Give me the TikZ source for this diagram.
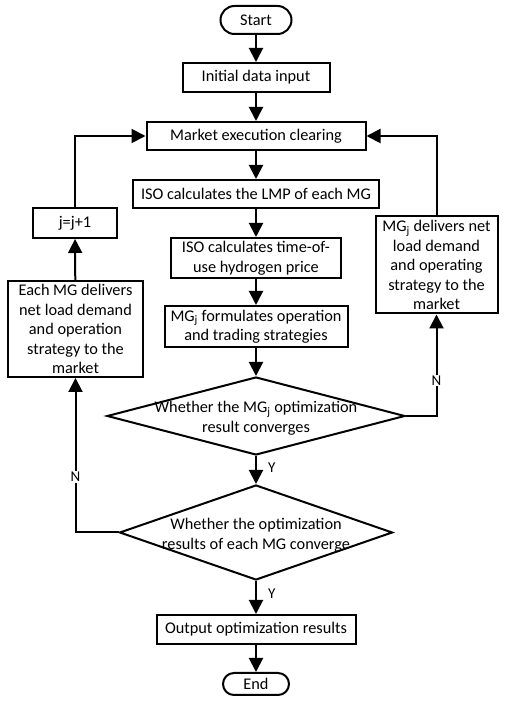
\documentclass[tikz,border=0pt]{standalone}
\usepackage{fontspec}
\setmainfont{Carlito}
\usetikzlibrary{arrows.meta,shapes.geometric}
\tikzset{
  box/.style={draw, line width=2pt, minimum height=28pt, inner sep=1pt, align=center},
  decision/.style={draw, diamond, line width=2pt, inner sep=0pt},
  flow/.style={line width=2pt, -{Triangle[length=14pt,width=14pt]}},
  yn/.style={font=\fontsize{15}{18}\selectfont, inner sep=1pt}
}
\begin{document}
\begin{tikzpicture}[x=1pt,y=1pt,font=\fontsize{16.3}{19.5}\selectfont]
        \useasboundingbox (0,0) rectangle (512,705);

        % Main column
        \node[box, rounded corners=14pt, minimum width=71pt] (start) at (256,685) {Start};
        \node[box, minimum width=147pt, minimum height=29pt] (init) at (256,627.5) {Initial data input};
        \node[box, minimum width=219pt] (market) at (256,569) {Market execution clearing};
        \node[box, minimum width=246pt] (lmp) at (256,511) {ISO calculates the LMP of each MG};
        \node[box, minimum width=170pt, minimum height=40pt] (price) at (256,447) {ISO calculates time-of-\\use hydrogen price};
        \node[box, minimum width=183pt, minimum height=41pt] (plan) at (256,378.5) {MG\textsubscript{j} formulates operation\\and trading strategies};
        \node[decision, minimum width=298pt, minimum height=78pt] (conv) at (256,289) {};
        \node[align=center, inner sep=0pt] (convtext) at (256,287) {Whether the MG\textsubscript{j} optimization\\result converges};
        \node[decision, minimum width=273pt, minimum height=95pt] (all) at (256,172.5) {};
        \node[align=center, inner sep=0pt] (alltext) at (256,170) {Whether the optimization\\results of each MG converge};
        \node[box, minimum width=199pt, minimum height=29pt] (output) at (256,75.5) {Output optimization results};
        \node[box, rounded corners=11pt, minimum width=66pt, minimum height=22pt] (end) at (256,21) {End};

        % Side boxes
        \node[box, minimum width=84pt, minimum height=30pt] (next) at (75,482) {j=j+1};
        \node[box, minimum width=135pt, minimum height=96pt] (each) at (75.5,376) {Each MG delivers\\net load demand\\and operation\\strategy to the\\market};
        \node[box, minimum width=122pt, minimum height=97pt] (single) at (436.5,440) {MG\textsubscript{j} delivers net\\load demand\\and operating\\strategy to the\\market};

        % Arrows down the main column
        \draw[flow] (start) -- (init);
        \draw[flow] (init) -- (market);
        \draw[flow] (market) -- (lmp);
        \draw[flow] (lmp) -- (price);
        \draw[flow] (price) -- (plan);
        \draw[flow] (plan) -- (conv.north);
        \draw[flow] (conv.south) -- node[yn, right=10pt, pos=0.4] (y1) {Y} (all.north);
        \draw[flow] (all.south) -- node[yn, right=10pt, pos=0.37] (y2) {Y} (output);
        \draw[flow] (output) -- (end);

        % Loops back to the market
        \draw[flow] (conv.east) -| node[yn, fill=white, pos=0.675] (n1) {N} (single.south);
        \draw[flow] (single.north) |- (market.east);
        \draw[flow] (all.west) -| node[yn, fill=white, pos=0.68] (n2) {N} (each.south);
        \draw[flow] (each) -- (next);
        \draw[flow] (next.north) |- (market.west);
    \end{tikzpicture}
\end{document}
